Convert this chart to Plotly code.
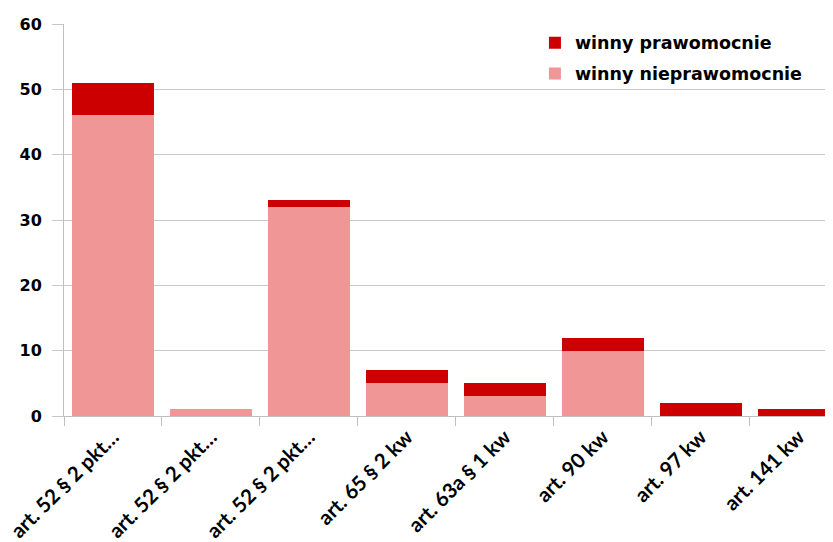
import plotly.graph_objects as go

labels = ["art. 52 § 2 pkt…", "art. 52 § 2 pkt…", "art. 52 § 2 pkt…", "art. 65 § 2 kw",
          "art. 63a § 1 kw", "art. 90 kw", "art. 97 kw", "art. 141 kw"]
nieprawomocnie = [46, 1, 32, 5, 3, 10, 0, 0]
prawomocnie = [5, 0, 1, 2, 2, 2, 2, 1]
x = [str(i) for i in range(len(labels))]

fig = go.Figure()
fig.add_trace(go.Bar(x=x, y=nieprawomocnie, name="winny nieprawomocnie", legendgroup="a",
                     legendrank=2, marker=dict(color="#F09696", line=dict(width=0))))
fig.add_trace(go.Bar(x=x, y=prawomocnie, name="winny prawomocnie", legendgroup="b",
                     legendrank=1, marker=dict(color="#CC0000", line=dict(width=0))))

fig.update_layout(
    width=825, height=534,
    barmode="stack", bargap=0.16,
    plot_bgcolor="white", paper_bgcolor="white",
    margin=dict(l=56, r=0, t=16, b=126),
    showlegend=True,
    legend=dict(x=0.6124, y=0.998, xanchor="left", yanchor="top", traceorder="grouped",
                font=dict(family="DejaVu Sans", size=17.5, color="black", weight="bold"),
                bgcolor="rgba(0,0,0,0)", tracegroupgap=5),
    xaxis=dict(type="category", range=[-0.5, 7.35], tickvals=x, ticktext=labels, tickangle=-45,
               showgrid=False, ticks="outside", ticklen=9, tickcolor="#BFBFBF",
               tickson="boundaries",
               showline=True, linecolor="#BFBFBF", automargin=False,
               tickfont=dict(family="Lato", size=20.5, color="black", weight=700)),
    yaxis=dict(range=[0, 60], dtick=10, showgrid=True, gridcolor="#C8C8C8", gridwidth=1,
               ticks="outside", ticklen=11, tickcolor="#C8C8C8", ticklabelstandoff=7,
               showline=True, linecolor="#BFBFBF", zeroline=False, automargin=False,
               tickfont=dict(family="DejaVu Sans", size=16, color="black", weight="bold")),
)
fig.write_html("out.html")
